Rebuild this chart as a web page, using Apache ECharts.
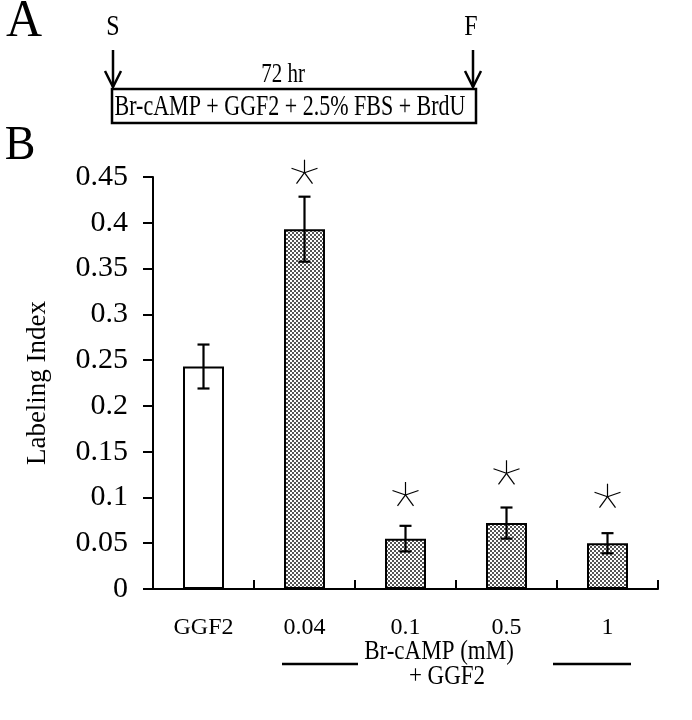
<!DOCTYPE html>
<html>
<head>
<meta charset="utf-8">
<script src="https://cdn.jsdelivr.net/npm/echarts@6/dist/echarts.min.js"></script>
<style>
html,body{margin:0;padding:0;background:#fff;}
#chart{width:692px;height:720px;}
</style>
</head>
<body>
<div id="chart"></div>
<script>
// ---- data ----
const categories = ['GGF2', '0.04', '0.1', '0.5', '1'];
const means = [0.243, 0.393, 0.055, 0.072, 0.050];
const errors = [0.024, 0.0355, 0.014, 0.017, 0.011];
const significant = [false, true, true, true, true];
const starLevels = [null, 0.4547, 0.1027, 0.1264, 0.1008];
const yTickLabels = ['0', '0.05', '0.1', '0.15', '0.2', '0.25', '0.3', '0.35', '0.4', '0.45'];
const yAxisTitle = 'Labeling Index';
const groupLabel1 = 'Br-cAMP (mM)';
const groupLabel2 = '+ GGF2';
const protocolText = 'Br-cAMP + GGF2 + 2.5% FBS + BrdU';
const durationText = '72 hr';

const FONT = '"Liberation Serif", "DejaVu Serif", serif';

// stipple pattern
const pat = document.createElement('canvas');
pat.width = 4; pat.height = 4;
const pctx = pat.getContext('2d');
pctx.fillStyle = '#fff'; pctx.fillRect(0, 0, 4, 4);
pctx.fillStyle = '#555';
pctx.fillRect(0, 0, 2, 2);
pctx.fillRect(2, 2, 2, 2);

const barData = means.map((v, i) => ({
  value: v,
  itemStyle: { color: i === 0 ? '#fff' : { image: pat, repeat: 'repeat' } }
}));
const errData = means.map((v, i) => [i, v, errors[i]]);
const starData = [];
significant.forEach((s, i) => { if (s) starData.push([i, starLevels[i]]); });

const chart = echarts.init(document.getElementById('chart'), null, { renderer: 'canvas' });

function arrow(x, y1, y2) {
  return [
    { type: 'line', shape: { x1: x, y1: y1, x2: x, y2: y2 }, style: { stroke: '#000', lineWidth: 2.5 } },
    { type: 'polyline', shape: { points: [[x - 8, y2 - 16], [x, y2], [x + 8, y2 - 16]] }, style: { stroke: '#000', lineWidth: 2.5, fill: null } }
  ];
}

function stext(x, y, text, size, sy) {
  return { type: 'text', x: x, y: y, scaleY: sy, style: { text: text, font: size + 'px ' + FONT, fill: '#000', align: 'center', verticalAlign: 'middle' } };
}

const option = {
  backgroundColor: '#fff',
  animation: false,
  grid: { left: 153, right: 34, top: 177, bottom: 131, containLabel: false },
  xAxis: {
    type: 'category',
    data: categories,
    boundaryGap: true,
    axisLine: { lineStyle: { color: '#000', width: 2 } },
    axisTick: { show: true, inside: true, length: 9, interval: 0, lineStyle: { color: '#000', width: 2 } },
    axisLabel: { interval: 0, color: '#000', fontFamily: FONT, fontSize: 24, margin: 27 },
    splitLine: { show: false }
  },
  yAxis: {
    type: 'value',
    min: 0, max: 0.45, interval: 0.05,
    name: yAxisTitle,
    nameLocation: 'middle',
    nameGap: 102,
    nameTextStyle: { color: '#000', fontFamily: FONT, fontSize: 27 },
    axisLine: { show: true, lineStyle: { color: '#000', width: 2 } },
    axisTick: { show: true, length: 10, lineStyle: { color: '#000', width: 2 } },
    axisLabel: {
      color: '#000', fontFamily: FONT, fontSize: 30, margin: 25,
      formatter: v => yTickLabels[Math.round(v / 0.05)]
    },
    splitLine: { show: false }
  },
  series: [
    {
      type: 'bar',
      data: barData,
      barWidth: 41,
      itemStyle: { borderColor: '#000', borderWidth: 2 },
      z: 2
    },
    {
      type: 'custom',
      data: errData,
      z: 3,
      clip: false,
      renderItem: function (params, api) {
        const x = api.value(0), m = api.value(1), e = api.value(2);
        const t = api.coord([x, m + e]), b = api.coord([x, m - e]);
        const hw = 6;
        const st = { stroke: '#000', lineWidth: 2.2 };
        return {
          type: 'group',
          children: [
            { type: 'line', shape: { x1: t[0], y1: t[1], x2: b[0], y2: b[1] }, style: st },
            { type: 'line', shape: { x1: t[0] - hw, y1: t[1], x2: t[0] + hw, y2: t[1] }, style: st },
            { type: 'line', shape: { x1: b[0] - hw, y1: b[1], x2: b[0] + hw, y2: b[1] }, style: st }
          ]
        };
      }
    },
    {
      type: 'custom',
      data: starData,
      z: 3,
      clip: false,
      renderItem: function (params, api) {
        const c = api.coord([api.value(0), api.value(1)]);
        const rays = [[0, -13], [-13, -4.5], [13, -4.5], [-8, 11], [8, 11]];
        const st = { stroke: '#000', lineWidth: 1.2 };
        return {
          type: 'group',
          children: rays.map(r => ({
            type: 'line', shape: { x1: c[0], y1: c[1], x2: c[0] + r[0], y2: c[1] + r[1] }, style: st
          }))
        };
      }
    }
  ],
  graphic: [
    stext(24, 22, 'A', 50, 1.05),
    stext(20, 146, 'B', 46, 1.05),
    stext(113, 27, 'S', 24, 1.2),
    stext(471, 27, 'F', 24, 1.2),
    ...arrow(113, 50, 87),
    ...arrow(473, 50, 87),
    stext(283, 75, durationText, 21, 1.3),
    { type: 'rect', shape: { x: 112, y: 89, width: 364, height: 34 }, style: { stroke: '#000', lineWidth: 2.5, fill: '#fff' } },
    stext(290, 107, protocolText, 22, 1.35),
    stext(439, 652, groupLabel1, 23, 1.2),
    stext(447, 677, groupLabel2, 23, 1.2),
    { type: 'line', shape: { x1: 282, y1: 664, x2: 358, y2: 664 }, style: { stroke: '#000', lineWidth: 2.5 } },
    { type: 'line', shape: { x1: 553, y1: 664, x2: 631, y2: 664 }, style: { stroke: '#000', lineWidth: 2.5 } }
  ]
};
chart.setOption(option);
</script>
</body>
</html>
